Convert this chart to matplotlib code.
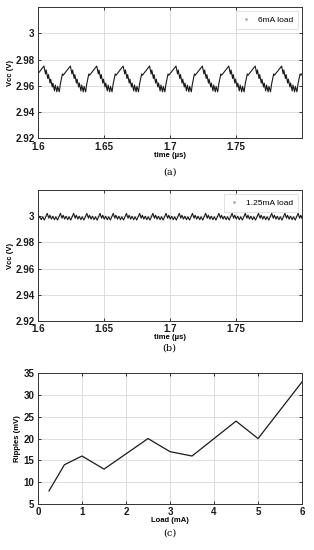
import numpy as np
import matplotlib
matplotlib.use('Agg')
import matplotlib.pyplot as plt
from matplotlib.ticker import FuncFormatter

# (a) one ripple cycle at 6mA load (offset from peak in us, Vcc in V)
cyc_a_t = [0.0, 0.0012, 0.0017, 0.0029, 0.0034, 0.0046, 0.0051, 0.0063, 0.0068,
           0.0080, 0.0086, 0.0098, 0.0104, 0.0116, 0.0124, 0.0140, 0.0146]
cyc_a_v = [2.9750, 2.9690, 2.9720, 2.9655, 2.9685, 2.9620, 2.9650, 2.9590, 2.9620,
           2.9560, 2.9605, 2.9553, 2.9595, 2.9553, 2.9612, 2.9690, 2.9680]
period_a = 0.02
first_peak_a = 1.5845
n_cycles_a = 12

# (b) one ripple cycle at 1.25mA load
cyc_b_t = [0.0, 0.0012, 0.0020, 0.0032, 0.0042, 0.0055, 0.0065, 0.0078, 0.0088]
cyc_b_v = [3.0022, 2.9985, 3.0008, 2.9978, 3.0000, 2.9974, 2.9996, 2.9971, 2.9994]
period_b = 0.01
first_peak_b = 1.5970
n_cycles_b = 22

# (c) ripple amplitude vs load
load_ma = [0.25, 0.6, 1.0, 1.5, 2.5, 3.0, 3.5, 4.5, 5.0, 6.0]
ripple_mv = [8, 14, 16, 13, 20, 17, 16, 24, 20, 33]

time_ticks = [1.6, 1.65, 1.7, 1.75]
vcc_ticks = [2.92, 2.94, 2.96, 2.98, 3.0]


def build_trace(cyc_t, cyc_v, period, t0, n):
    t = np.concatenate([t0 + k * period + np.array(cyc_t) for k in range(n)])
    v = np.tile(cyc_v, n)
    return t, v


ta, va = build_trace(cyc_a_t, cyc_a_v, period_a, first_peak_a, n_cycles_a)
tb, vb = build_trace(cyc_b_t, cyc_b_v, period_b, first_peak_b, n_cycles_b)

plt.rcParams.update({'font.family': 'Liberation Sans', 'font.size': 7,
                     'font.weight': 'bold', 'axes.labelweight': 'bold'})

fig = plt.figure(figsize=(3.14, 5.5), dpi=100)
ax_a = fig.add_axes([0.121, 0.749, 0.841, 0.238])
ax_b = fig.add_axes([0.121, 0.4164, 0.841, 0.238])
ax_c = fig.add_axes([0.121, 0.0836, 0.841, 0.238])

line_c = '#1a1a1a'
fmt = FuncFormatter(lambda x, pos: '%g' % round(x, 3))


def style(ax):
    ax.grid(True, color='#d8d8d8', lw=0.6)
    ax.set_axisbelow(True)
    ax.tick_params(direction='in', length=2.5, width=0.6, top=True, right=True,
                   pad=2.5, labelsize=7, colors='#1a1a1a')
    for s in ax.spines.values():
        s.set_linewidth(0.7)
        s.set_color('#333333')


for ax, t, v, lab in [(ax_a, ta, va, '6mA load'), (ax_b, tb, vb, '1.25mA load')]:
    ax.plot(t, v, color=line_c, lw=0.8)
    ax.plot([], [], '.', color='#999999', ms=1.5, label=lab)
    ax.set_xlim(1.6, 1.8)
    ax.set_ylim(2.92, 3.02)
    ax.set_xticks(time_ticks)
    ax.set_yticks(vcc_ticks)
    ax.xaxis.set_major_formatter(fmt)
    ax.yaxis.set_major_formatter(fmt)
    ax.set_xlabel('time (µs)', fontsize=5.5, labelpad=0)
    ax.set_ylabel('Vcc (V)', fontsize=5.5, labelpad=1)
    style(ax)
    leg = ax.legend(loc='upper right', handlelength=1.2, handletextpad=0.8,
                    fancybox=False, borderpad=0.6, prop={'weight': 'normal', 'size': 6})
    leg.get_frame().set_edgecolor('#cccccc')
    leg.get_frame().set_linewidth(0.5)

ax_c.plot(load_ma, ripple_mv, color=line_c, lw=0.9)
ax_c.set_xlim(0, 6)
ax_c.set_ylim(5, 35)
ax_c.set_xticks(range(0, 7))
ax_c.set_yticks(range(5, 36, 5))
ax_c.set_xlabel('Load (mA)', fontsize=5.5, labelpad=0)
ax_c.set_ylabel('Ripples (mV)', fontsize=5.5, labelpad=2)
style(ax_c)

for y, txt in [(0.687, '(a)'), (0.367, '(b)'), (0.031, '(c)')]:
    fig.text(0.54, y, txt, ha='center', va='center', family='DejaVu Serif',
             fontsize=7, weight='normal')

fig.savefig('out.png', dpi=100)
